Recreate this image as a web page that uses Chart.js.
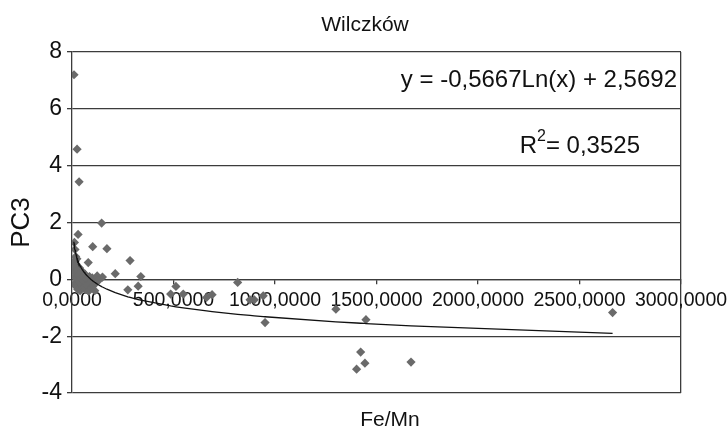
<!DOCTYPE html>
<html>
<head>
<meta charset="utf-8">
<script src="https://cdn.jsdelivr.net/npm/chart.js@4"></script>
<style>
  html, body { margin: 0; padding: 0; background: #fff; }
  #wrap { width: 728px; height: 434px; position: relative; }
</style>
</head>
<body>
<div id="wrap"><canvas id="c" width="728" height="434"></canvas></div>
<script>
// Fe/Mn ratio (x) against PC3 score (y) for the Wilczków samples
const feMn = [
  10, 25, 35, 146, 30, 12, 15, 102, 172, 80, 286, 213, 150, 339, 326, 275,
  512, 486, 548, 663, 690, 816, 877, 898, 942, 951, 1300, 1448, 1422, 1443, 1402, 1670, 2663,
  9, 11, 13, 14, 16, 18, 20, 22, 24, 26, 28, 31, 34, 37, 40, 43, 46, 50, 53, 56,
  60, 64, 68, 72, 76, 82, 86, 90, 95, 100, 106, 112, 118, 124, 130, 18
];
const pc3 = [
  7.2, 4.58, 3.43, 1.98, 1.58, 1.30, 1.05, 1.15, 1.08, 0.59, 0.66, 0.20, 0.08, 0.10, -0.24, -0.37,
  -0.25, -0.52, -0.52, -0.64, -0.54, -0.11, -0.72, -0.72, -0.58, -1.52, -1.05, -1.42, -2.56, -2.95, -3.16, -2.91, -1.17,
  0.62, 0.35, 0.10, -0.15, 0.48, 0.22, -0.25, 0.02, 0.72, 0.30, -0.35, 0.15, -0.05, 0.40, -0.40, 0.05, -0.18, 0.28, 0.10, -0.30,
  -0.05, 0.18, -0.35, 0.02, -0.20, -0.42, 0.10, -0.12, -0.30, 0.05, -0.22, -0.40, -0.10, 0.12, -0.05, 0.80
];

// logarithmic trend: y = a*ln(x) + b
const trendA = -0.5667;
const trendB = 2.5692;
const rSquared = '0,3525';

const xTickValues = [0, 500, 1000, 1500, 2000, 2500, 3000];
const xTickLabels = ['0,0000', '500,0000', '1000,0000', '1500,0000', '2000,0000', '2500,0000', '3000,0000'];
const yTickValues = [-4, -2, 0, 2, 4, 6, 8];
const yTickLabels = ['-4', '-2', '0', '2', '4', '6', '8'];

const titleText = 'Wilczków';
const xTitle = 'Fe/Mn';
const yTitle = 'PC3';
const equationText = 'y = -0,5667Ln(x) + 2,5692';

const FONT = '"Liberation Sans", Arial, sans-serif';
const GRID = '#3c3c3c';

const points = feMn.map((x, i) => ({ x: x, y: pc3[i] }));
const trendX = Array.from(new Set(feMn)).sort((a, b) => a - b);
const trend = trendX.map(x => ({ x: x, y: trendA * Math.log(x) + trendB }));

const textPlugin = {
  id: 'texts',
  afterDraw(chart) {
    const { ctx, chartArea: a } = chart;
    ctx.save();
    ctx.fillStyle = '#111';
    ctx.textBaseline = 'middle';
    ctx.textAlign = 'center';
    ctx.font = '21px ' + FONT;
    ctx.fillText(titleText, a.left + 293, 25);
    ctx.fillText(xTitle, a.left + 318, 420);
    ctx.save();
    ctx.translate(22, (a.top + a.bottom) / 2);
    ctx.rotate(-Math.PI / 2);
    ctx.font = '26px ' + FONT;
    ctx.fillText(yTitle, 0, 0);
    ctx.restore();
    // regression equation and R²
    ctx.textAlign = 'right';
    ctx.font = '24px ' + FONT;
    ctx.fillText(equationText, a.right - 4, 80);
    const rx = a.right - 41;
    const tail = '= ' + rSquared;
    ctx.fillText(tail, rx, 146);
    const tw = ctx.measureText(tail).width;
    ctx.font = '16px ' + FONT;
    ctx.fillText('2', rx - tw, 137);
    const sw = ctx.measureText('2').width;
    ctx.font = '24px ' + FONT;
    ctx.fillText('R', rx - tw - sw, 146);
    ctx.restore();
  }
};

new Chart(document.getElementById('c'), {
  type: 'scatter',
  data: {
    datasets: [
      {
        type: 'line',
        data: trend,
        borderColor: '#111',
        borderWidth: 1.3,
        pointRadius: 0,
        tension: 0,
        fill: false
      },
      {
        data: points,
        pointStyle: 'rectRot',
        pointRadius: 4.6,
        backgroundColor: '#6a6a6a',
        borderColor: '#6a6a6a',
        borderWidth: 0
      }
    ]
  },
  options: {
    responsive: false,
    animation: false,
    layout: { padding: { top: 52, right: 47, bottom: 41, left: 0 } },
    plugins: { legend: { display: false }, tooltip: { enabled: false }, title: { display: false } },
    scales: {
      x: {
        type: 'linear',
        position: { y: 0 },
        min: 0,
        max: 3000,
        afterBuildTicks(scale) { scale.ticks = xTickValues.map(v => ({ value: v })); },
        afterFit(scale) { scale.paddingLeft = 0; scale.paddingRight = 0; },
        ticks: {
          callback: (v) => xTickLabels[xTickValues.indexOf(v)],
          color: '#111',
          font: { family: FONT, size: 19.5 },
          padding: 6,
          maxRotation: 0,
          autoSkip: false
        },
        grid: {
          drawOnChartArea: true,
          color: (c) => (c.tick && c.tick.value === 3000 ? GRID : 'rgba(0,0,0,0)'),
          tickColor: GRID,
          tickLength: 4,
          lineWidth: 1.3
        },
        border: { color: GRID, width: 1.3 }
      },
      y: {
        min: -4,
        max: 8,
        afterBuildTicks(scale) { scale.ticks = yTickValues.map(v => ({ value: v })); },
        afterFit(scale) { scale.width = 72; scale.paddingTop = 0; scale.paddingBottom = 0; },
        ticks: {
          callback: (v) => yTickLabels[yTickValues.indexOf(v)],
          color: '#111',
          font: { family: FONT, size: 23 },
          padding: 5
        },
        grid: { color: GRID, tickColor: GRID, tickLength: 5, lineWidth: 1.3 },
        border: { color: GRID, width: 1.3 }
      }
    }
  },
  plugins: [textPlugin]
});
</script>
</body>
</html>
